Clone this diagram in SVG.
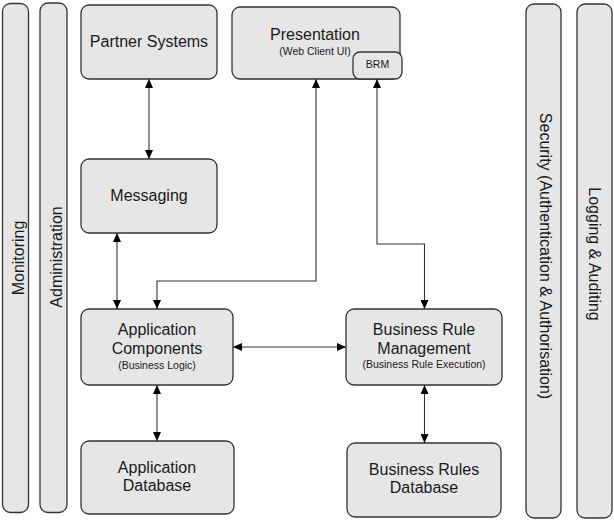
<svg xmlns="http://www.w3.org/2000/svg" width="614" height="520" viewBox="0 0 614 520">
<defs>
<style>
.box{fill:#e6e6e6;stroke:#333;stroke-width:1.3}
.t{font-family:"Liberation Sans",Arial,sans-serif;font-size:16px;fill:#1a1a1a;text-anchor:middle}
.s{font-family:"Liberation Sans",Arial,sans-serif;font-size:10.5px;fill:#1a1a1a;text-anchor:middle}
.c{fill:none;stroke:#333;stroke-width:1.1}
</style>
<marker id="ah" markerUnits="userSpaceOnUse" markerWidth="9" markerHeight="8" refX="9" refY="4" orient="auto-start-reverse">
<path d="M0,0 L9,4 L0,8 z" fill="#000"/>
</marker>
</defs>
<g id="monitoring">
<rect class="box" x="2.5" y="3.5" width="26" height="509" rx="8"/>
<text class="t" transform="translate(23.5,258) rotate(-90)">Monitoring</text>
</g>
<g id="administration">
<rect class="box" x="40" y="3" width="27" height="509.5" rx="8"/>
<text class="t" transform="translate(61.5,257) rotate(-90)">Administration</text>
</g>
<g id="security">
<rect class="box" x="526" y="4" width="35" height="514" rx="8"/>
<text class="t" transform="translate(540,256) rotate(90)">Security (Authentication &amp; Authorisation)</text>
</g>
<g id="logging">
<rect class="box" x="577" y="4" width="35" height="514" rx="8"/>
<text class="t" transform="translate(588.5,254) rotate(90)">Logging &amp; Auditing</text>
</g>
<g id="partner">
<rect class="box" x="81" y="5" width="136" height="74" rx="8"/>
<text class="t" x="149" y="47">Partner Systems</text>
</g>
<g id="presentation">
<rect class="box" x="232" y="7" width="168" height="72" rx="8"/>
<text class="t" x="315" y="40">Presentation</text>
<text class="s" x="315" y="55">(Web Client UI)</text>
</g>
<g id="brm-ui">
<rect class="box" x="353" y="52" width="49" height="27" rx="7"/>
<text class="s" x="377.5" y="68">BRM</text>
</g>
<g id="messaging">
<rect class="box" x="81" y="159" width="136" height="74" rx="8"/>
<text class="t" x="149" y="201">Messaging</text>
</g>
<g id="appcomp">
<rect class="box" x="81" y="309" width="152" height="76" rx="8"/>
<text class="t" x="157" y="335">Application</text>
<text class="t" x="157" y="354">Components</text>
<text class="s" x="157" y="369">(Business Logic)</text>
</g>
<g id="brmgmt">
<rect class="box" x="346" y="309" width="156" height="76" rx="8"/>
<text class="t" x="424" y="335">Business Rule</text>
<text class="t" x="424" y="354">Management</text>
<text class="s" x="424" y="368">(Business Rule Execution)</text>
</g>
<g id="appdb">
<rect class="box" x="81" y="441" width="153" height="73" rx="8"/>
<text class="t" x="157" y="473">Application</text>
<text class="t" x="157" y="491">Database</text>
</g>
<g id="brdb">
<rect class="box" x="347" y="443" width="154" height="74" rx="8"/>
<text class="t" x="424" y="475">Business Rules</text>
<text class="t" x="424" y="493">Database</text>
</g>
<g id="connectors">
<path class="c" d="M149,79 V159" marker-start="url(#ah)" marker-end="url(#ah)"/>
<path class="c" d="M117,233 V309" marker-start="url(#ah)" marker-end="url(#ah)"/>
<path class="c" d="M157,309 V281 H316 V79" marker-start="url(#ah)" marker-end="url(#ah)"/>
<path class="c" d="M377,79 V244 H424.5 V309" marker-start="url(#ah)" marker-end="url(#ah)"/>
<path class="c" d="M233,347 H346" marker-start="url(#ah)" marker-end="url(#ah)"/>
<path class="c" d="M157,385 V441" marker-start="url(#ah)" marker-end="url(#ah)"/>
<path class="c" d="M424.5,385 V443" marker-start="url(#ah)" marker-end="url(#ah)"/>
</g>
</svg>
